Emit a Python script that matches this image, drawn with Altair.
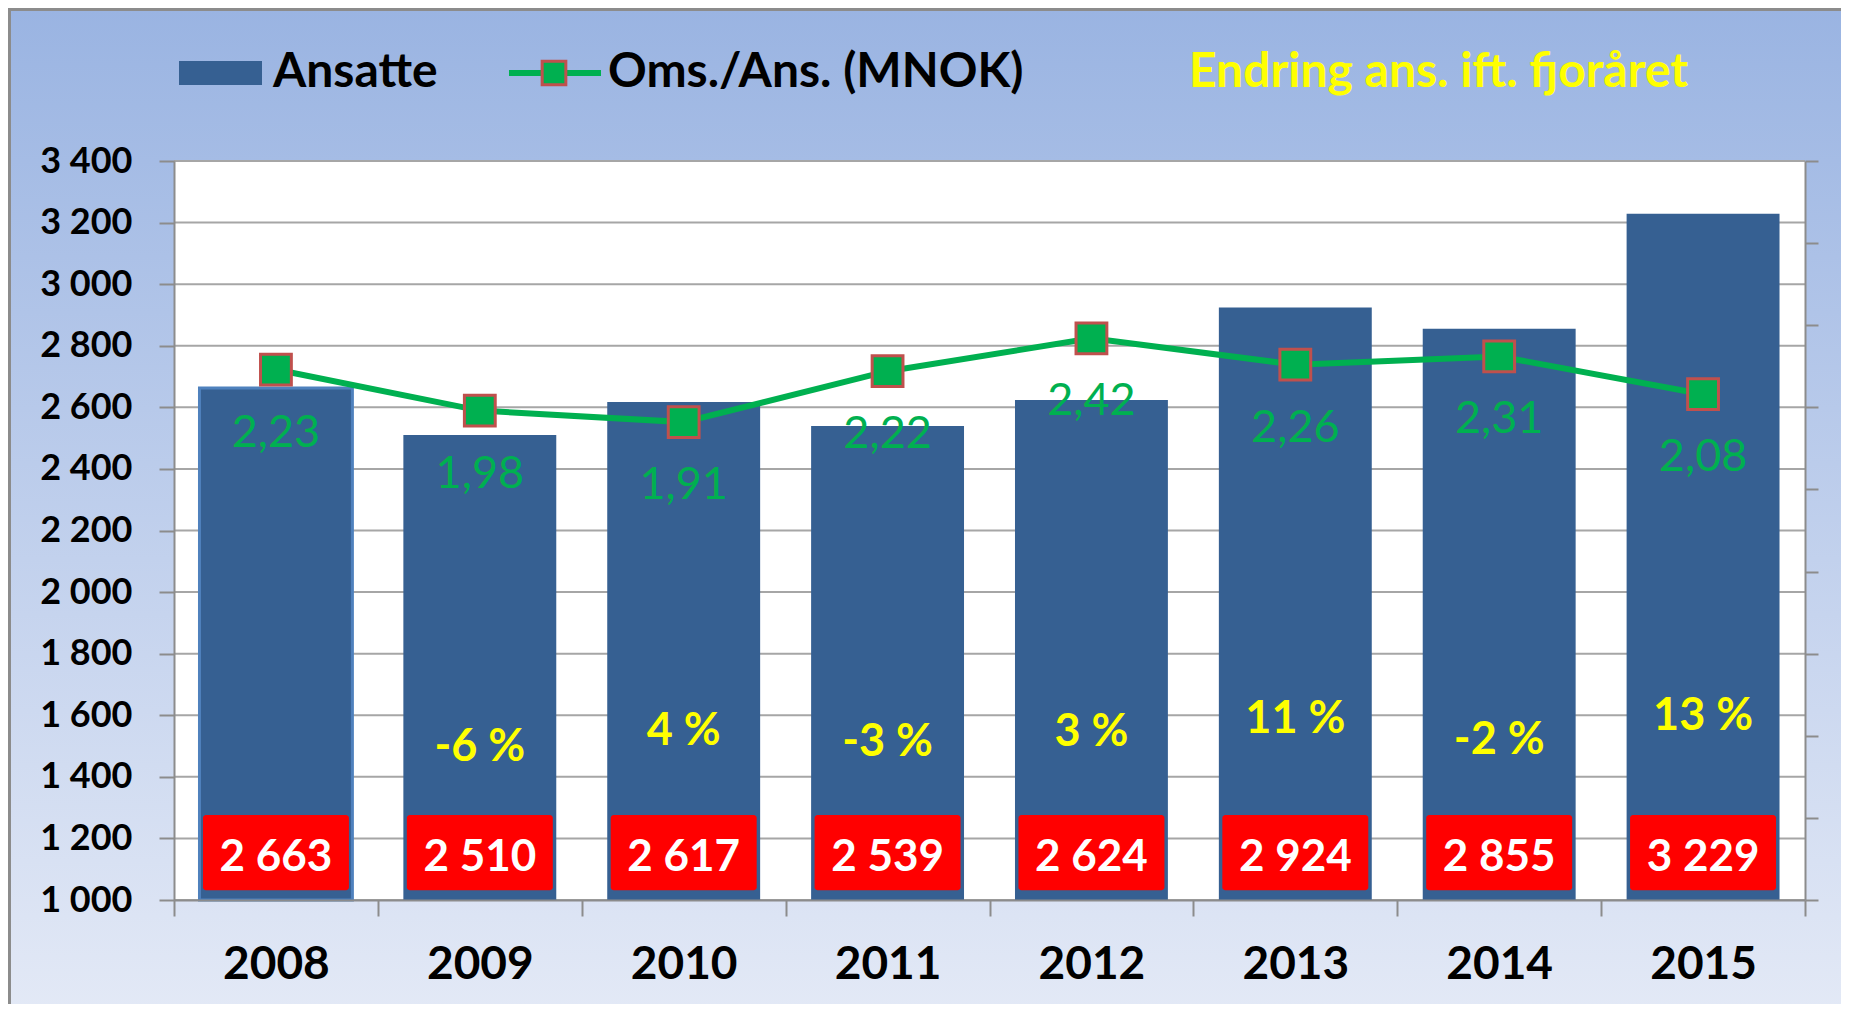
import altair as alt
import pandas as pd

# ---------------- data ----------------
years = ["2008", "2009", "2010", "2011", "2012", "2013", "2014", "2015"]
ansatte = [2663, 2510, 2617, 2539, 2624, 2924, 2855, 3229]
oms_per_ans = [2.23, 1.98, 1.91, 2.22, 2.42, 2.26, 2.31, 2.08]
endring_years = ["2009", "2010", "2011", "2012", "2013", "2014", "2015"]
endring_pct = [-6, 4, -3, 3, 11, -2, 13]
y_ticks = [1000, 1200, 1400, 1600, 1800, 2000, 2200, 2400, 2600, 2800, 3000, 3200, 3400]
y2_ticks = [-1, -0.5, 0, 0.5, 1, 1.5, 2, 2.5, 3, 3.5]

df = pd.DataFrame({"year": years, "ansatte": ansatte, "oms": oms_per_ans})
df_pct = pd.DataFrame({"year": endring_years, "pct": endring_pct})
df_grid = pd.DataFrame({"tick": y_ticks})
one = alt.Data(values=[{}])

# ---------------- layout / style ----------------
W, H = 1631, 739
FONT = "Lato"
GRAY = "#8C8C8C"
BAR = "#366092"
GREEN = "#00B050"

xscale = alt.Scale(domain=years, paddingInner=0, paddingOuter=0)
xaxis = alt.Axis(title=None, labelAngle=0, labelFont=FONT, labelFontSize=46,
                 labelFontWeight="bold", labelColor="black", tickBand="extent",
                 tickSize=16, tickColor=GRAY, tickWidth=2, domainColor=GRAY,
                 domainWidth=2, labelPadding=48, labelBaseline="middle",
                 grid=False, zindex=1)
X = alt.X("year:N", scale=xscale, axis=xaxis)

yscale = alt.Scale(domain=[1000, 3400], nice=False, zero=False)
left_axis = alt.Axis(orient="left", values=y_ticks, title=None,
                     labelExpr="replace(format(datum.value, ','), ',', ' ')",
                     labelFont=FONT, labelFontSize=36, labelFontWeight="bold",
                     labelColor="black", tickSize=15, tickColor=GRAY, tickWidth=2,
                     domainColor=GRAY, domainWidth=2, labelPadding=27,
                     grid=False, zindex=1)
right_axis = alt.Axis(orient="right", values=y2_ticks, title=None, labels=False,
                      tickSize=13, tickColor=GRAY, tickWidth=2, domainColor=GRAY,
                      domainWidth=2, grid=False, zindex=1)

# ---------------- background ----------------
bg = alt.Chart(one).mark_rect(
    fill=alt.LinearGradient(gradient="linear",
                            stops=[alt.GradientStop(color="#9AB4E2", offset=0),
                                   alt.GradientStop(color="#E3E9F6", offset=1)],
                            x1=0, x2=0, y1=0, y2=1),
    stroke=GRAY, strokeWidth=3
).encode(x=alt.value(-164.5), x2=alt.value(W + 50), y=alt.value(-151.5), y2=alt.value(H + 112))

plotbg = alt.Chart(one).mark_rect(fill="white").encode(
    x=alt.value(0), x2=alt.value(W), y=alt.value(0), y2=alt.value(H))

# ---------------- legend ----------------
LEG_FS = 48
leg_rect = alt.Chart(one).mark_rect(fill=BAR).encode(
    x=alt.value(5), x2=alt.value(88), y=alt.value(-100), y2=alt.value(-76))
leg_t1 = alt.Chart(one).mark_text(text="Ansatte", font=FONT, fontSize=LEG_FS, fontWeight="bold",
                                  color="black", align="left", baseline="middle").encode(
    x=alt.value(99), y=alt.value(-88))
leg_line = alt.Chart(one).mark_rule(color=GREEN, strokeWidth=6).encode(
    x=alt.value(335), x2=alt.value(427), y=alt.value(-88))
leg_sq = alt.Chart(one).mark_square(fill=GREEN, stroke="#C0504D", strokeWidth=3, size=560,
                                    opacity=1).encode(x=alt.value(380), y=alt.value(-88))
leg_t2 = alt.Chart(one).mark_text(text="Oms./Ans. (MNOK)", font=FONT, fontSize=LEG_FS, fontWeight="bold",
                                  color="black", align="left", baseline="middle").encode(
    x=alt.value(434), y=alt.value(-88))
leg_t3 = alt.Chart(one).mark_text(text="Endring ans. ift. fjoråret", font=FONT, fontSize=LEG_FS,
                                  fontWeight="bold", color="#FFFF00", align="left",
                                  baseline="middle").encode(x=alt.value(1015), y=alt.value(-88))

# ---------------- bars (left axis) ----------------
grid = alt.Chart(df_grid).mark_rule(color="#A6A6A6", strokeWidth=2).encode(
    y=alt.Y("tick:Q", scale=yscale, axis=left_axis), x=alt.value(0), x2=alt.value(W))

bars = alt.Chart(df).mark_bar(color=BAR, width=alt.RelativeBandSize(0.75)).encode(
    x=X,
    y=alt.Y("ansatte:Q", scale=yscale, axis=left_axis),
    y2=alt.datum(1000),
    stroke=alt.value("#4F81BD"),
    strokeWidth=alt.condition("datum.year == '2008'", alt.value(3), alt.value(0)),
)

boxes = alt.Chart(df).mark_bar(color="#FF0000", width=alt.RelativeBandSize(0.716),
                               cornerRadius=3).encode(
    x=X, y=alt.datum(1276), y2=alt.datum(1032))

box_text = alt.Chart(df).transform_calculate(
    lbl="replace(format(datum.ansatte, ','), ',', ' ')"
).mark_text(font=FONT, fontSize=44, fontWeight="bold", color="white", baseline="middle").encode(
    x=X, y=alt.datum(1138), text="lbl:N")

bar_group = alt.layer(grid, bars, boxes, box_text)

# ---------------- line (right axis) ----------------
y2scale = alt.Scale(domain=[-1, 3.5], nice=False, zero=False)
line = alt.Chart(df).mark_line(color=GREEN, strokeWidth=6).encode(
    x=X, y=alt.Y("oms:Q", scale=y2scale, axis=right_axis))
points = alt.Chart(df).mark_square(fill=GREEN, stroke="#C0504D", strokeWidth=3, size=950,
                                   opacity=1).encode(
    x=X, y=alt.Y("oms:Q", scale=y2scale, axis=right_axis))
green_text = alt.Chart(df).transform_calculate(
    olbl="replace(format(datum.oms, '.2f'), '.', ',')"
).mark_text(font=FONT, fontSize=45, color=GREEN, baseline="middle", dy=63).encode(
    x=X, y=alt.Y("oms:Q", scale=y2scale, axis=right_axis), text="olbl:N")
line_group = alt.layer(line, points, green_text)

# ---------------- change % labels (hidden series) ----------------
pct_text = alt.Chart(df_pct).transform_calculate(
    plbl="datum.pct + ' %'"
).mark_text(font=FONT, fontSize=45, fontWeight="bold", color="#FFFF00", baseline="middle").encode(
    x=X,
    y=alt.Y("pct:Q", scale=alt.Scale(domain=[-101.6, 358.9], nice=False, zero=False), axis=None),
    text="plbl:N")

chart = alt.layer(
    bg, plotbg, leg_rect, leg_t1, leg_line, leg_sq, leg_t2, leg_t3,
    bar_group, line_group, pct_text
).resolve_scale(y="independent").properties(
    width=W, height=H,
    padding={"left": 166, "top": 153, "right": 36, "bottom": 104},
    autosize=alt.AutoSizeParams(type="none"),
).configure_view(strokeWidth=0).configure(background="white")

chart.save("out.html", embed_options={"renderer": "svg", "actions": False})
